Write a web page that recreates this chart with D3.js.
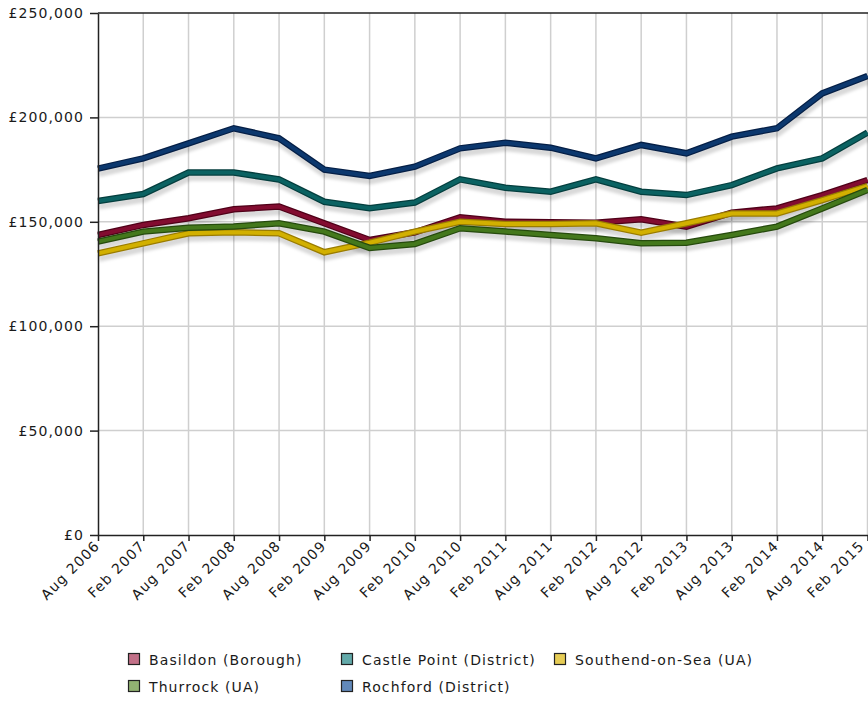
<!DOCTYPE html>
<html>
  <head>
    <meta charset="utf-8" />
    <title>House prices</title>
    <script src="https://d3js.org/d3.v7.min.js"></script>
    <style>
      body {
        margin: 0px;
        background-color: white;
      }
      text {
        font-family: "DejaVu Sans", sans-serif;
        font-size: 14px;
        letter-spacing: 1.1px;
        fill: #1a1a1a;
      }
      .axis path, .axis line {
        stroke: #222;
        stroke-width: 1.5;
      }
      .grid line {
        stroke: #cfcfcf;
        stroke-width: 1.5;
      }
    </style>
  </head>
  <body>
    <svg id="chart"></svg>
    <script>
      // tick labels along the x axis
      var months = ["Aug 2006", "Feb 2007", "Aug 2007", "Feb 2008", "Aug 2008", "Feb 2009",
                    "Aug 2009", "Feb 2010", "Aug 2010", "Feb 2011", "Aug 2011", "Feb 2012",
                    "Aug 2012", "Feb 2013", "Aug 2013", "Feb 2014", "Aug 2014", "Feb 2015"];
      var yTicks = [0, 50000, 100000, 150000, 200000, 250000];

      // average prices
      var basildon = [143700, 148500, 151700, 156000, 157300, 149300, 141300, 145000, 152200,
                      150000, 149800, 149500, 151200, 147700, 154400, 156400, 162800, 170000];
      var castlePoint = [160000, 163300, 173600, 173600, 170300, 159600, 156500, 159200, 170300,
                         166300, 164400, 170300, 164400, 162800, 167600, 175600, 180400, 192700];
      var southend = [134900, 139700, 144500, 145000, 144500, 135400, 140000, 145300, 150000,
                      149000, 149000, 149300, 144800, 149300, 154000, 154000, 160400, 167100];
      var thurrock = [140500, 145300, 147200, 147700, 149300, 145300, 137500, 139400, 146900,
                      145300, 143700, 142100, 139700, 140000, 143700, 147700, 156400, 165200];
      var rochford = [175500, 180400, 187600, 194800, 190000, 175000, 172000, 176400, 185200,
                      187900, 185500, 180400, 186800, 182800, 190800, 194800, 211500, 219800];

      var series = [
        {name: "Basildon (Borough)", values: basildon, dark: "#4f0018", color: "#820c30", key: "#c27088"},
        {name: "Castle Point (District)", values: castlePoint, dark: "#043e3e", color: "#0b6262", key: "#62a9a9"},
        {name: "Southend-on-Sea (UA)", values: southend, dark: "#9a7c00", color: "#d2b000", key: "#e6cc55"},
        {name: "Thurrock (UA)", values: thurrock, dark: "#264a0e", color: "#44781c", key: "#92b272"},
        {name: "Rochford (District)", values: rochford, dark: "#051f46", color: "#0c386e", key: "#6289ba"}
      ];

      var width = 868, height = 702;
      var margin = {top: 13, left: 98, bottom: 535, right: 868};

      var svg = d3.select("#chart")
        .attr("width", width)
        .attr("height", height);

      var defs = svg.append("defs");
      defs.append("filter").attr("id", "blur")
        .append("feGaussianBlur").attr("stdDeviation", 1.6);

      var x = d3.scalePoint()
        .domain(months)
        .range([margin.left, margin.right - 0.5]);

      var y = d3.scaleLinear()
        .domain([0, 250000])
        .range([margin.bottom, margin.top]);

      // grid
      var grid = svg.append("g").attr("class", "grid");
      grid.selectAll(".v")
        .data(months.slice(1))
        .enter().append("line")
        .attr("x1", function(d){ return x(d); })
        .attr("x2", function(d){ return x(d); })
        .attr("y1", margin.top)
        .attr("y2", margin.bottom);
      grid.selectAll(".h")
        .data(yTicks.slice(1, -1))
        .enter().append("line")
        .attr("x1", margin.left)
        .attr("x2", margin.right)
        .attr("y1", function(d){ return y(d); })
        .attr("y2", function(d){ return y(d); });

      var line = d3.line()
        .x(function(d, i){ return x(months[i]); })
        .y(function(d){ return y(d); });

      // shadows first, under every line
      svg.append("g")
        .attr("transform", "translate(1,5)")
        .attr("filter", "url(#blur)")
        .selectAll("path")
        .data(series)
        .enter().append("path")
        .attr("d", function(d){ return line(d.values); })
        .attr("fill", "none")
        .attr("stroke", "#000")
        .attr("stroke-opacity", 0.15)
        .attr("stroke-width", 7);

      var lines = svg.append("g").selectAll("g")
        .data(series)
        .enter().append("g");
      lines.append("path")
        .attr("d", function(d){ return line(d.values); })
        .attr("fill", "none")
        .attr("stroke", function(d){ return d.dark; })
        .attr("stroke-width", 6.5);
      lines.append("path")
        .attr("d", function(d){ return line(d.values); })
        .attr("fill", "none")
        .attr("stroke", function(d){ return d.color; })
        .attr("stroke-width", 4);

      // axes
      var yAxis = d3.axisLeft(y)
        .tickValues(yTicks)
        .tickSize(8)
        .tickSizeOuter(0)
        .tickPadding(6)
        .tickFormat(function(d){ return "£" + d3.format(",")(d); });
      svg.append("g")
        .attr("class", "axis")
        .attr("transform", "translate(" + margin.left + ",0)")
        .call(yAxis);

      var xAxis = d3.axisBottom(x)
        .tickSize(6)
        .tickSizeOuter(0);
      svg.append("g")
        .attr("class", "axis")
        .attr("transform", "translate(0," + margin.bottom + ")")
        .call(xAxis)
        .selectAll("text")
        .attr("text-anchor", "end")
        .attr("dx", "-0.2em")
        .attr("dy", "0.2em")
        .attr("transform", function(d, i){
          // the last label sits on the window edge, nudge it in a little
          return (i === months.length - 1 ? "translate(-5,0) " : "") + "rotate(-45)";
        })
        .attr("y", 7)
        .attr("x", -4);

      svg.select(".domain").attr("stroke", "#222");
      svg.append("line")
        .attr("x1", margin.left)
        .attr("x2", margin.right)
        .attr("y1", margin.top)
        .attr("y2", margin.top)
        .attr("stroke", "#222")
        .attr("stroke-width", 1.5);

      // legend
      var legendX = [128, 341, 554];
      var legend = svg.append("g").selectAll("g")
        .data(series)
        .enter().append("g")
        .attr("transform", function(d, i){
          return "translate(" + legendX[i % 3] + "," + (653 + Math.floor(i / 3) * 27) + ")";
        });
      legend.append("rect")
        .attr("width", 11)
        .attr("height", 11)
        .attr("x", 0.5)
        .attr("y", 0.5)
        .attr("fill", function(d){ return d.key; })
        .attr("stroke", "#222")
        .attr("stroke-width", 1.2);
      legend.append("text")
        .attr("x", 21)
        .attr("y", 12)
        .text(function(d){ return d.name; });
    </script>
  </body>
</html>
